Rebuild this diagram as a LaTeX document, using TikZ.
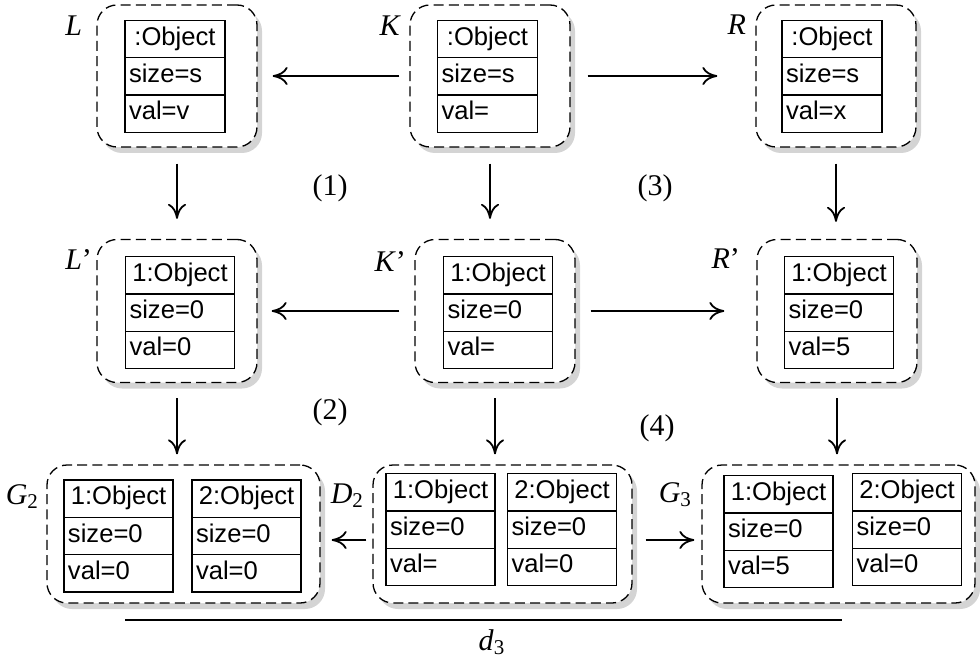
\documentclass[tikz,border=0pt]{standalone}
\usepackage{fontspec}
\setmainfont{Liberation Serif}
\setsansfont{Liberation Sans}
\usetikzlibrary{
    shapes.multipart,
    shadows,
    positioning,
    arrows.meta,
}
\newcommand{\objfont}{\sffamily\fontsize{12.8}{15}\selectfont}
\newcommand{\objrows}[3]{\strut#1\nodepart{two}\strut#2\nodepart{three}\strut#3}
\tikzstyle{frame} = [rectangle, draw, fill=white, line width=0.65pt,
    dash pattern=on 5pt off 2.6pt, rounded corners=10pt,
    minimum width=80pt, minimum height=71pt,
    drop shadow={shadow xshift=2.5pt, shadow yshift=-3pt, fill=black!17, opacity=1}]
\tikzstyle{obj} = [rectangle split, rectangle split parts=3, draw,
    line width=0.7pt, fill=white, font=\objfont, inner xsep=2pt, inner ysep=1.5pt,
    rectangle split part align={center,left,left}, minimum width=50pt]
\tikzstyle{objw} = [obj, minimum width=54.5pt]
\tikzstyle{lbl} = [inner sep=0pt, anchor=east]
\tikzstyle{line} = [draw, line width=0.9pt, -{To[length=7.5pt,width=9pt]}]

\begin{document}
\begin{tikzpicture}[x=0.5pt, y=-0.5pt, font=\fontsize{15}{17}\selectfont]
        \useasboundingbox (0,0) rectangle (980,658);
        % Place frames
        \node [frame] (L) at (177,76) {};
        \node [frame] (K) at (490,76) {};
        \node [frame] (R) at (836,76) {};
        \node [frame, minimum height=71.5pt] (Lp) at (177,311) {};
        \node [frame, minimum height=71.5pt] (Kp) at (495,311) {};
        \node [frame, minimum height=71.5pt] (Rp) at (837,311) {};
        \node [frame, minimum width=136.5pt, minimum height=69pt] (G2) at (183.5,534) {};
        \node [frame, minimum width=129.5pt, minimum height=69pt] (D2) at (502.5,534) {};
        \node [frame, minimum width=136.5pt, minimum height=69pt] (G3) at (838.5,534) {};
        % Frame names
        \node [lbl] (nL) at ([shift={(-7pt,-10.5pt)}]L.north west) {\textit{L}};
        \node [lbl] (nK) at ([shift={(-4pt,-10.5pt)}]K.north west) {\textit{K}};
        \node [lbl] (nR) at ([shift={(-4.5pt,-10pt)}]R.north west) {\textit{R}};
        \node [lbl] (nLp) at ([shift={(-2pt,-10.5pt)}]Lp.north west) {\textit{L}’};
        \node [lbl] (nKp) at ([shift={(-4pt,-11.5pt)}]Kp.north west) {\textit{K}’};
        \node [lbl] (nRp) at ([shift={(-8pt,-10pt)}]Rp.north west) {\textit{R}’};
        \node [lbl] (nG2) at ([shift={(-3.5pt,-16pt)}]G2.north west) {\textit{G}\textsubscript{2}};
        \node [lbl] (nD2) at ([shift={(-4pt,-15.5pt)}]D2.north west) {\textit{D}\textsubscript{2}};
        \node [lbl] (nG3) at ([shift={(-4.5pt,-15pt)}]G3.north west) {\textit{G}\textsubscript{3}};
        % Objects
        \node [obj] (oL) at (175,76.5) {\objrows{:Object}{size=s}{val=v}};
        \node [obj] (oK) at (487.5,76.5) {\objrows{:Object}{size=s}{val=}};
        \node [obj] (oR) at (832,76.5) {\objrows{:Object}{size=s}{val=x}};
        \node [objw] (oLp) at (180,312.5) {\objrows{1:Object}{size=0}{val=0}};
        \node [objw] (oKp) at (498,312.5) {\objrows{1:Object}{size=0}{val=}};
        \node [objw] (oRp) at (839,312.5) {\objrows{1:Object}{size=0}{val=5}};
        \node [objw] (oG2a) at (118.5,536) {\objrows{1:Object}{size=0}{val=0}};
        \node [objw] (oG2b) at (246.5,536) {\objrows{2:Object}{size=0}{val=0}};
        \node [objw] (oD2a) at (440.5,529.5) {\objrows{1:Object}{size=0}{val=}};
        \node [objw] (oD2b) at (562,529.5) {\objrows{2:Object}{size=0}{val=0}};
        \node [objw] (oG3a) at (778.5,531.5) {\objrows{1:Object}{size=0}{val=5}};
        \node [objw] (oG3b) at (907,529.5) {\objrows{2:Object}{size=0}{val=0}};
        % Square numbers
        \node (s1) at (330,188) {(1)};
        \node (s3) at (655,188) {(3)};
        \node (s2) at (330,412) {(2)};
        \node (s4) at (657,428) {(4)};
        % Draw edges
        \path [line, shorten <=5pt, shorten >=7.5pt] (K) -- (L);
        \path [line, shorten <=8.5pt, shorten >=19pt] (K) -- (R);
        \path [line, shorten <=7.5pt, shorten >=7pt] (Kp) -- (Lp);
        \path [line, shorten <=7.5pt, shorten >=16pt] (Kp) -- (Rp);
        \path [line, shorten <=8pt, shorten >=10pt] (L.south) -- (L.south |- Lp.north);
        \path [line, shorten <=8pt, shorten >=10pt] (K.south) -- (K.south |- Kp.north);
        \path [line, shorten <=8pt, shorten >=8.5pt] (R.south) -- (R.south |- Rp.north);
        \path [line, shorten <=7.5pt, shorten >=5pt] (Lp.south) -- (Lp.south |- G2.north);
        \path [line, shorten <=7.5pt, shorten >=5pt] (Kp.south) -- (Kp.south |- D2.north);
        \path [line, shorten <=7.5pt, shorten >=5pt] (Rp.south) -- (Rp.south |- G3.north);
        \path [line, shorten <=3pt, shorten >=5.5pt] ([yshift=-3pt]D2.west) -- ([yshift=-3pt]G2.east);
        \path [line, shorten <=6.5pt, shorten >=3.5pt] ([yshift=-3pt]D2.east) -- ([yshift=-3pt]G3.west);
        % Distance bar
        \coordinate (d3l) at (125,620);
        \coordinate (d3r) at (842,620);
        \path [draw, line width=0.75pt] (d3l) -- (d3r);
        \node (d3) at (492,642) {\textit{d}\textsubscript{3}};
    \end{tikzpicture}
\end{document}
